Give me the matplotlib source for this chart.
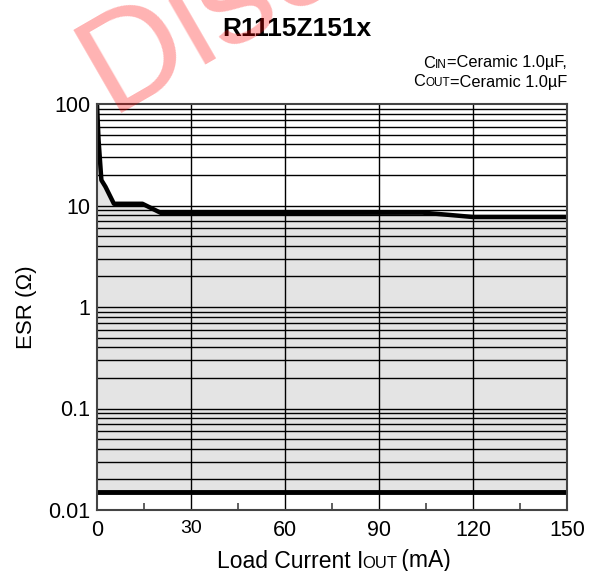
import matplotlib
matplotlib.use('Agg')
import matplotlib.pyplot as plt
from matplotlib.offsetbox import TextArea, HPacker, AnnotationBbox
from matplotlib.ticker import FixedLocator, NullFormatter

plt.rcParams['font.family'] = ['Liberation Sans', 'DejaVu Sans']

# ESR upper limit curve
load_current = [0, 0.5, 1.1, 1.4, 2.7, 5.4, 14.5, 20.4, 104, 112, 120, 150]
esr_upper = [100, 44, 24, 17.8, 15.3, 10.4, 10.4, 8.45, 8.5, 8.1, 7.7, 7.7]
esr_lower = 0.015

x_ticks = [0, 30, 60, 90, 120, 150]
x_minor = [15, 45, 75, 105, 135]
y_ticks = [0.01, 0.1, 1, 10, 100]
y_tick_labels = ['0.01', '0.1', '1', '10', '100']

fig = plt.figure(figsize=(5.89, 5.71), dpi=100)
ax = fig.add_axes([97 / 589, 1 - 510 / 571, 470 / 589, 406 / 571])

ax.set_yscale('log')
ax.set_xlim(0, 150)
ax.set_ylim(0.01, 100)

# stable region
ax.fill_between(load_current, esr_lower, esr_upper, color='#e4e4e4', lw=0, zorder=1)

# grid
minor_y = [m * 10.0 ** e for e in range(-2, 2) for m in range(2, 10)]
for v in minor_y + y_ticks[1:-1]:
    ax.axhline(v, color='black', lw=1.0, zorder=2)
for v in x_ticks[1:-1]:
    ax.axvline(v, color='black', lw=1.0, zorder=2)

ax.plot(load_current, esr_upper, color='black', lw=3.2, solid_joinstyle='round', zorder=3)
ax.axhline(esr_lower, color='black', lw=3.5, zorder=3)

ax.set_xticks(x_ticks)
ax.set_xticklabels([str(v) for v in x_ticks])
ax.xaxis.set_minor_locator(FixedLocator(x_minor))
ax.set_yticks(y_ticks)
ax.set_yticklabels(y_tick_labels)
ax.yaxis.set_minor_locator(FixedLocator([]))
ax.yaxis.set_minor_formatter(NullFormatter())
ax.tick_params(axis='x', which='major', length=0, labelsize=15.5, pad=7)
ax.tick_params(axis='x', which='minor', direction='in', length=5, width=1.2, color='#444444')
ax.tick_params(axis='y', which='both', length=0, labelsize=15.5, pad=5)
# the "30" label is a bit smaller in the original
ax.get_xticklabels()[1].set_fontsize(14)
for s in ax.spines.values():
    s.set_color('#444444')
    s.set_linewidth(1.5)
    s.set_zorder(4)

ax.set_ylabel('ESR (\u03a9)', fontsize=16, labelpad=8)


def mixed_text(parts, xy, align, sep=0):
    boxes = [TextArea(t, textprops=dict(fontsize=fs, family=['Liberation Sans', 'DejaVu Sans']))
             for t, fs in parts]
    pack = HPacker(children=boxes, align='baseline', pad=0, sep=sep)
    ab = AnnotationBbox(pack, xy, xycoords='figure pixels', frameon=False,
                        box_alignment=align, pad=0)
    fig.add_artist(ab)


note_fs = 11.8
small = note_fs * 0.72
mixed_text([('C', note_fs), ('IN', small), ('=Ceramic 1.0\u00b5F,', note_fs)],
           (567, 571 - 63), (1, 0.5))
mixed_text([('C', note_fs), ('OUT', small), ('=Ceramic 1.0\u00b5F', note_fs)],
           (567, 571 - 82), (1, 0.5))
mixed_text([('Load Current I', 16.5), ('OUT', 12), (' (mA)', 16.5)],
           (334, 571 - 561), (0.5, 0.5), sep=-1)

fig.text(297 / 589, 1 - 29 / 571, 'R1115Z151x', fontsize=19, fontweight='bold',
         ha='center', va='center')

# watermark
fig.text(110 / 589, 1 - 113 / 571, 'Discontinued', fontsize=100, rotation=30,
         rotation_mode='anchor', ha='left', va='baseline', color='red', alpha=0.3,
         zorder=10)

fig.savefig('out.png', dpi=100)
